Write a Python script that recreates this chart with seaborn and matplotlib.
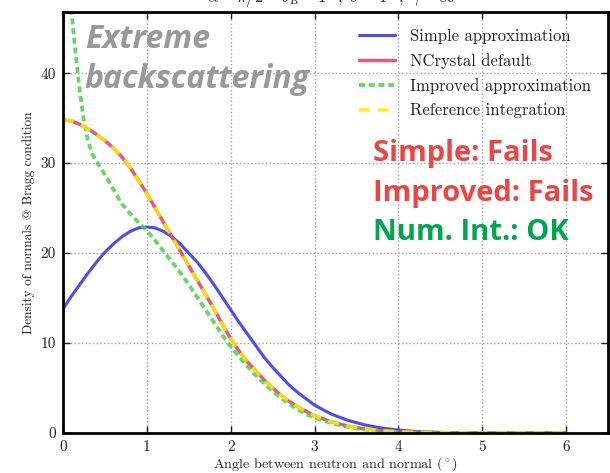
import matplotlib
matplotlib.use("Agg")
import matplotlib.pyplot as plt
import seaborn as sns
import pandas as pd

# Angle between neutron and normal (degrees) and density of normals for each model
angle_simple = [0.0, 0.1, 0.2, 0.3, 0.4, 0.5, 0.6, 0.7, 0.8, 0.9, 1.0, 1.1, 1.2,
                1.3, 1.4, 1.5, 1.6, 1.7, 1.8, 1.9, 2.0, 2.1, 2.2, 2.3, 2.4, 2.5,
                2.6, 2.7, 2.8, 2.9, 3.0, 3.2, 3.4, 3.6, 3.8, 4.0, 4.25, 4.5,
                5.0, 5.5, 6.0]
simple = [13.8, 15.2, 16.5, 17.8, 19.0, 20.1, 21.0, 21.8, 22.4, 22.8, 22.9,
          22.8, 22.4, 21.8, 21.0, 20.0, 19.0, 17.8, 16.5, 15.1, 13.7, 12.3,
          11.0, 9.7, 8.4, 7.3, 6.3, 5.3, 4.5, 3.8, 3.1, 2.1, 1.4, 0.9, 0.55,
          0.32, 0.15, 0.07, 0.01, 0.0, 0.0]

angle_ref = [0.0, 0.1, 0.2, 0.3, 0.4, 0.5, 0.6, 0.7, 0.8, 0.9, 1.0, 1.1, 1.2,
             1.3, 1.4, 1.5, 1.6, 1.7, 1.8, 1.9, 2.0, 2.1, 2.2, 2.3, 2.4, 2.5,
             2.6, 2.7, 2.8, 2.9, 3.0, 3.2, 3.4, 3.6, 3.8, 4.0, 4.25, 4.5,
             5.0, 5.5, 6.0]
ncrystal = [34.8, 34.7, 34.3, 33.8, 33.2, 32.5, 31.7, 30.7, 29.5, 28.1, 26.6,
            25.0, 23.4, 21.8, 20.2, 18.6, 17.0, 15.4, 13.8, 12.1, 10.5, 9.1,
            7.9, 6.9, 5.9, 5.0, 4.2, 3.5, 2.9, 2.4, 1.9, 1.25, 0.75, 0.45,
            0.25, 0.13, 0.06, 0.02, 0.0, 0.0, 0.0]
reference = [34.8, 34.7, 34.3, 33.8, 33.2, 32.5, 31.7, 30.7, 29.5, 28.1, 26.6,
             25.0, 23.4, 21.8, 20.2, 18.6, 17.0, 15.4, 13.8, 12.1, 10.5, 9.1,
             7.9, 6.9, 5.9, 5.0, 4.2, 3.5, 2.9, 2.4, 1.9, 1.25, 0.75, 0.45,
             0.25, 0.13, 0.06, 0.02, 0.0, 0.0, 0.0]

angle_improved = [0.0, 0.01, 0.05, 0.1, 0.15, 0.2, 0.25, 0.3, 0.35, 0.4, 0.5,
                  0.6, 0.7, 0.8, 0.9, 1.0, 1.1, 1.2, 1.3, 1.4, 1.5, 1.6, 1.7,
                  1.8, 1.9, 2.0, 2.1, 2.2, 2.3, 2.4, 2.5, 2.6, 2.7, 2.8, 2.9,
                  3.0, 3.2, 3.4, 3.6, 3.8, 4.0, 4.25, 4.5, 5.0, 5.5, 6.0]
improved = [34.8, 80.0, 53.0, 47.0, 42.2, 38.0, 34.6, 32.4, 31.0, 30.2, 28.7,
            27.1, 25.5, 24.4, 23.4, 22.5, 21.4, 20.2, 19.0, 17.8, 16.5, 15.1,
            13.7, 12.3, 10.9, 9.6, 8.5, 7.4, 6.4, 5.5, 4.6, 3.9, 3.2, 2.6, 2.1,
            1.7, 1.1, 0.65, 0.38, 0.2, 0.1, 0.04, 0.01, 0.0, 0.0, 0.0]

x_ticks = [0, 1, 2, 3, 4, 5, 6]
y_ticks = [0, 10, 20, 30, 40]

sns.set_theme(style="white")
plt.rcParams["font.family"] = ["cmr10", "DejaVu Serif"]
plt.rcParams["mathtext.fontset"] = "cm"
plt.rcParams["axes.formatter.use_mathtext"] = True
plt.rcParams["axes.unicode_minus"] = False

fig = plt.figure(figsize=(6.10, 4.73), dpi=100)
ax = fig.add_axes([63 / 610, 1 - 433 / 473, (608 - 63) / 610, (433 - 12) / 473])

df_simple = pd.DataFrame({"angle": angle_simple, "density": simple})
df_ref = pd.DataFrame({"angle": angle_ref, "ncrystal": ncrystal, "reference": reference})
df_imp = pd.DataFrame({"angle": angle_improved, "density": improved})

sns.lineplot(data=df_simple, x="angle", y="density", ax=ax, color="#3a3aee",
             lw=2.2, alpha=0.9, label="Simple approximation", sort=False)
sns.lineplot(data=df_ref, x="angle", y="ncrystal", ax=ax, color="#e2486a",
             lw=2.5, alpha=0.9, label="NCrystal default", sort=False)
sns.lineplot(data=df_imp, x="angle", y="density", ax=ax, color="#4ccf4c",
             lw=2.7, alpha=0.85, label="Improved approximation", sort=False)
sns.lineplot(data=df_ref, x="angle", y="reference", ax=ax, color="#ffee00",
             lw=2.6, alpha=0.85, label="Reference integration", sort=False)

lines = ax.get_lines()
lines[2].set_dashes([1.6, 1.0])
lines[3].set_dashes([3.0, 2.2])

ax.set_xlim(0, 6.5)
ax.set_ylim(0, 46.8)
ax.set_xticks(x_ticks)
ax.set_yticks(y_ticks)
ax.set_xticklabels([str(t) for t in x_ticks], fontsize=11)
ax.set_yticklabels([str(t) for t in y_ticks], fontsize=11)
ax.tick_params(direction="in", length=5, width=1, top=True, right=True,
               bottom=True, left=True, colors="#222222", pad=5)
ax.grid(True, linestyle=":", color="#a0a0a0", lw=1.0)
for sp in ax.spines.values():
    sp.set_linewidth(2.0)
    sp.set_color("black")

ax.set_xlabel(r"Angle between neutron and normal ($^\circ$)", fontsize=10.2,
              color="#222222", labelpad=1)
ax.set_ylabel("Density of normals @ Bragg condition", fontsize=9.6,
              color="#222222", labelpad=4)

ax.set_title(r"$\alpha = \pi/2 - \theta_\mathrm{B} = 1^\circ,\ \sigma = 1^\circ,\ \gamma = 89^\circ$",
             fontsize=12, pad=7)

leg = ax.legend(loc="upper right", frameon=False, fontsize=12, handlelength=2.2,
                labelspacing=0.55, borderaxespad=0.6, handletextpad=0.9)
for t in leg.get_texts():
    t.set_color("#222222")

ax.text(0.04, 0.975, "Extreme\nbackscattering", transform=ax.transAxes,
        fontsize=23, fontweight="bold", fontstyle="italic", color="#999999",
        family="Open Sans", va="top", ha="left", linespacing=1.3)

ax.text(0.568, 0.665, "Simple: Fails", transform=ax.transAxes, fontsize=21,
        fontweight="bold", color="#ee4444", family="Open Sans", va="center")
ax.text(0.568, 0.57, "Improved: Fails", transform=ax.transAxes, fontsize=21,
        fontweight="bold", color="#ee4444", family="Open Sans", va="center")
ax.text(0.568, 0.477, "Num. Int.: OK", transform=ax.transAxes, fontsize=21,
        fontweight="bold", color="#00a550", family="Open Sans", va="center")

fig.savefig("out.png", dpi=100)
